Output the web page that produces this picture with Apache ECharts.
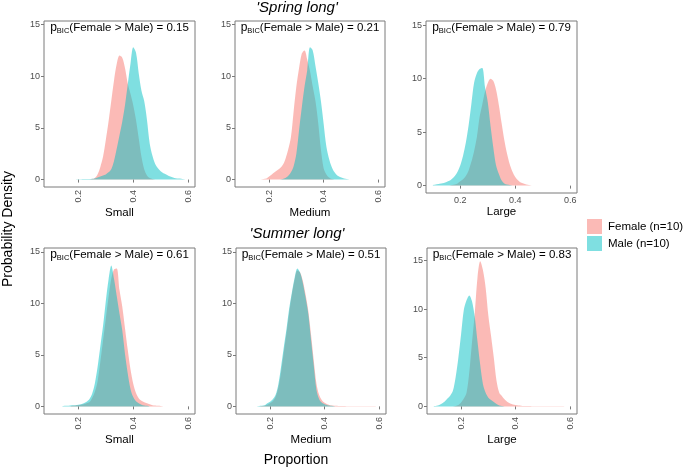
<!DOCTYPE html>
<html><head><meta charset="utf-8">
<script src="https://cdn.jsdelivr.net/npm/echarts@6/dist/echarts.min.js"></script>
<style>html,body{margin:0;padding:0;background:#fff}#c{width:685px;height:468px}</style>
</head><body><div id="c"></div>
<script>
// Proportion grid (x values of the density estimates)
const xGrid = [0.10,0.11,0.12,0.13,0.14,0.15,0.16,0.17,0.18,0.19,
  0.20,0.21,0.22,0.23,0.24,0.25,0.26,0.27,0.28,0.29,
  0.30,0.31,0.32,0.33,0.34,0.35,0.36,0.37,0.38,0.39,
  0.40,0.41,0.42,0.43,0.44,0.45,0.46,0.47,0.48,0.49,
  0.50,0.51,0.52,0.53,0.54,0.55,0.56,0.57,0.58,0.59,0.60];

// Spring long
const springSmallFemale = [0,0,0,0,0,0,0,0,0,0, 0,0,0,0,0,0.05,0.15,0.5,1.2,2.2, 3.8,5.6,7.6,9.6,11.2,12.0,11.8,10.8,9.3,8.3, 7.2,5.8,4.0,2.2,1.0,0.4,0.15,0.05,0,0, 0,0,0,0,0,0,0,0,0,0,0];
const springSmallMale = [0,0,0,0,0,0,0,0,0,0, 0.02,0.03,0.05,0.05,0.05,0.08,0.1,0.2,0.3,0.4, 0.5,0.7,1.0,1.8,3.0,4.3,5.6,7.2,9.2,11.2, 12.8,12.3,10.3,8.6,7.6,5.8,3.5,2.3,1.5,1.1, 0.8,0.6,0.5,0.35,0.25,0.15,0.1,0.1,0.05,0,0];
const springMediumFemale = [0,0,0,0,0,0,0,0,0.05,0.1, 0.3,0.5,0.7,0.9,1.1,1.4,2.0,2.9,4.1,6.6, 9.0,10.8,12.2,12.5,11.6,10.5,9.0,7.6,5.5,2.9, 1.1,0.5,0.2,0.05,0,0,0,0,0,0, 0,0,0,0,0,0,0,0,0,0,0];
const springMediumMale = [0,0,0,0,0,0,0,0,0,0, 0,0,0,0,0,0.05,0.15,0.35,0.7,1.3, 2.5,4.8,7.0,9.0,10.6,12.8,12.5,11.0,9.4,7.6, 5.4,3.2,2.0,1.2,0.7,0.4,0.25,0.15,0.08,0.03, 0,0,0,0,0,0,0,0,0,0,0];
const springLargeFemale = [0,0,0,0,0,0,0,0.05,0.1,0.2, 0.4,0.6,0.9,1.4,2.2,3.2,4.5,6.4,7.6,8.8, 9.6,10.0,9.8,9.0,7.6,5.9,4.3,3.0,2.0,1.3, 0.8,0.5,0.3,0.2,0.1,0.05,0,0,0,0, 0,0,0,0,0,0,0,0,0,0,0];
const springLargeMale = [0.05,0.1,0.15,0.2,0.25,0.35,0.45,0.65,0.9,1.3, 1.9,2.8,4.0,5.6,7.6,9.6,10.5,10.9,11.0,9.2, 7.8,5.6,3.6,1.9,1.1,0.5,0.2,0.1,0.05,0, 0,0,0,0,0,0,0,0,0,0, 0,0,0,0,0,0,0,0,0,0,0];

// Summer long
const summerSmallFemale = [0,0,0,0,0,0,0,0,0.05,0.08, 0.1,0.15,0.2,0.3,0.4,0.8,1.4,2.4,4.3,6.4, 8.5,10.6,12.4,13.3,13.4,11.3,9.7,7.6,5.5,3.6, 2.2,1.3,0.8,0.55,0.4,0.3,0.2,0.12,0.08,0.05, 0.03,0,0,0,0,0,0,0,0,0,0];
const summerSmallMale = [0,0,0,0,0,0.05,0.05,0.08,0.1,0.12, 0.15,0.2,0.3,0.45,0.7,1.2,2.2,3.8,5.8,7.8, 10.2,12.3,13.7,12.4,10.7,9.0,7.4,5.1,3.2,1.7, 0.9,0.5,0.3,0.15,0.08,0.05,0,0,0,0, 0,0,0,0,0,0,0,0,0,0,0];
const summerMediumFemale = [0,0,0,0,0,0,0,0.03,0.06,0.15, 0.3,0.5,0.9,1.8,3.3,5.2,7.1,9.1,10.9,12.3, 13.2,13.0,12.2,10.9,9.3,7.0,4.5,2.2,1.1,0.6, 0.35,0.2,0.12,0.08,0.05,0.04,0.03,0.03,0.02,0.02, 0.02,0.02,0.02,0.02,0.02,0.02,0.02,0.02,0.01,0,0];
const summerMediumMale = [0,0,0,0,0,0,0.03,0.05,0.1,0.3, 0.45,0.7,1.1,2.1,3.8,5.7,7.5,9.5,11.1,12.5, 13.4,13.0,12.0,10.6,9.0,6.5,4.0,1.6,0.7,0.35, 0.2,0.1,0.05,0.03,0,0,0,0,0,0, 0,0,0,0,0,0,0,0,0,0,0];
const summerLargeFemale = [0,0,0,0,0,0,0,0,0.05,0.15, 0.4,0.8,1.4,3.5,6.6,9.5,13.2,14.9,14.0,12.2, 9.3,7.2,5.0,2.6,1.4,1.05,0.7,0.45,0.3,0.2, 0.15,0.1,0.08,0.05,0.04,0.03,0.02,0.02,0.02,0.02, 0.02,0.02,0.02,0.02,0.02,0.02,0.02,0.01,0,0,0];
const summerLargeMale = [0.03,0.08,0.15,0.3,0.5,0.8,1.1,1.6,3.0,5.0, 7.4,9.9,10.9,11.4,10.8,9.2,6.7,4.3,2.3,1.4, 0.9,0.65,0.45,0.25,0.1,0.05,0,0,0,0, 0,0,0,0,0,0,0,0,0,0, 0,0,0,0,0,0,0,0,0,0,0];

const panelNames = ['Small','Medium','Large','Small','Medium','Large'];
const pValues = [0.15, 0.21, 0.79, 0.61, 0.51, 0.83];
const femaleSeries = [springSmallFemale, springMediumFemale, springLargeFemale, summerSmallFemale, summerMediumFemale, summerLargeFemale];
const maleSeries = [springSmallMale, springMediumMale, springLargeMale, summerSmallMale, summerMediumMale, summerLargeMale];
const xTicks = [0.2, 0.4, 0.6];
const yTicks = [0, 5, 10, 15];
const groupTitles = ["'Spring long'", "'Summer long'"];
const legendNames = ['Female (n=10)', 'Male (n=10)'];

// layout (pixels)
const layout = [
  {left:44, top:21, width:151, height:166, ymin:-0.72, ymax:15.35, rot:90, gap:20},
  {left:235, top:21, width:150, height:166, ymin:-0.72, ymax:15.35, rot:90, gap:20},
  {left:426, top:21, width:151, height:172, ymin:-0.69, ymax:15.4, rot:0, gap:13},
  {left:44, top:248, width:151, height:166, ymin:-0.74, ymax:15.39, rot:90, gap:20},
  {left:236, top:248, width:150, height:166, ymin:-0.74, ymax:15.39, rot:90, gap:20},
  {left:427, top:248, width:150, height:166, ymin:-0.78, ymax:16.27, rot:90, gap:20}
];

const FONT = '"Liberation Sans", Arial, sans-serif';
const FEMALE = 'rgba(248,118,109,0.5)';
const MALE = 'rgba(0,191,196,0.5)';
const BORDER = '#7a7a7a';

const grids = [], xAxes = [], yAxes = [], series = [], graphics = [];
layout.forEach((L, i) => {
  grids.push({left:L.left, top:L.top, width:L.width, height:L.height, show:true,
    borderColor:BORDER, borderWidth:1, backgroundColor:'transparent', containLabel:false});
  xAxes.push({type:'value', gridIndex:i, min:0.075, max:0.625,
    name:panelNames[i], nameLocation:'middle', nameGap:L.gap,
    nameTextStyle:{fontSize:11.5, color:'#000', fontFamily:FONT},
    axisLine:{show:false}, splitLine:{show:false},
    axisTick:{show:true, length:3, customValues:xTicks, lineStyle:{color:BORDER}},
    axisLabel:{customValues:xTicks, rotate:L.rot, fontSize:9, color:'#4d4d4d', margin:3,
      fontFamily:FONT, formatter:v => v.toFixed(1)}});
  yAxes.push({type:'value', gridIndex:i, min:L.ymin, max:L.ymax,
    axisLine:{show:false}, splitLine:{show:false},
    axisTick:{show:true, length:3, customValues:yTicks, lineStyle:{color:BORDER}},
    axisLabel:{customValues:yTicks, fontSize:9, color:'#4d4d4d', margin:4, fontFamily:FONT}});
  [[femaleSeries[i], FEMALE, legendNames[0]], [maleSeries[i], MALE, legendNames[1]]].forEach(([vals, col, nm]) => {
    series.push({type:'line', name:nm, xAxisIndex:i, yAxisIndex:i,
      data: xGrid.map((x, k) => [x, vals[k]]),
      smooth:0.3, showSymbol:false, silent:true,
      lineStyle:{width:0}, itemStyle:{color:col},
      areaStyle:{color:col, opacity:1}});
  });
  graphics.push({type:'text', x:L.left + L.width/2, y:L.top + 7, silent:true,
    style:{text:'{p|p}{s|BIC}{t|(Female > Male) = ' + pValues[i].toFixed(2) + '}',
      align:'center', verticalAlign:'middle',
      rich:{
        p:{fontSize:12, fill:'#000', fontFamily:FONT, lineHeight:14},
        s:{fontSize:7.5, fill:'#000', fontFamily:FONT, lineHeight:8, verticalAlign:'bottom', padding:[4,0,0,0]},
        t:{fontSize:11.5, fill:'#000', fontFamily:FONT, lineHeight:14}
      }}});
});

graphics.push({type:'text', x:297, y:8, style:{text:groupTitles[0], font:'italic 15px ' + FONT, fill:'#000', align:'center', verticalAlign:'middle'}});
graphics.push({type:'text', x:297, y:234, style:{text:groupTitles[1], font:'italic 15px ' + FONT, fill:'#000', align:'center', verticalAlign:'middle'}});
graphics.push({type:'text', x:8, y:229, rotation:Math.PI/2, style:{text:'Probability Density', font:'14px ' + FONT, fill:'#000', align:'center', verticalAlign:'middle'}});
graphics.push({type:'text', x:296, y:460, style:{text:'Proportion', font:'14px ' + FONT, fill:'#000', align:'center', verticalAlign:'middle'}});

const chart = echarts.init(document.getElementById('c'), null, {renderer:'canvas'});
chart.setOption({
  animation:false,
  backgroundColor:'#fff',
  grid:grids, xAxis:xAxes, yAxis:yAxes, series:series,
  legend:{orient:'vertical', left:587, top:219, padding:0, itemWidth:15, itemHeight:15, itemGap:2,
    icon:'rect', selectedMode:false,
    textStyle:{fontSize:11.5, color:'#000', fontFamily:FONT, padding:[0,0,0,1]},
    data:[{name:legendNames[0], itemStyle:{color:FEMALE}}, {name:legendNames[1], itemStyle:{color:MALE}}]},
  graphic:graphics
});
</script></body></html>
